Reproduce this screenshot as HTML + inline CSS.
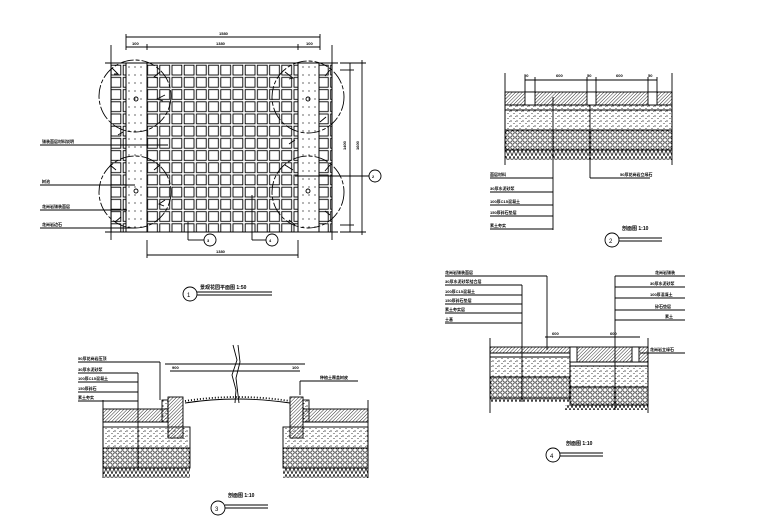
<!DOCTYPE html>
<html><head><meta charset="utf-8"><style>
html,body{margin:0;padding:0;background:#fff;}
svg{display:block;}
text{font-family:"Liberation Sans","Noto Sans CJK SC",sans-serif;font-size:4px;font-weight:bold;fill:#000;}
.t{font-size:6px;font-weight:normal;}
</style></head><body>
<svg width="760" height="530" viewBox="0 0 760 530" xmlns="http://www.w3.org/2000/svg">
<defs>
<pattern id="grid" width="12.2" height="12.2" patternUnits="userSpaceOnUse" x="0" y="3">
<rect x="1.2" y="1.2" width="9.8" height="9.8" fill="#fff" stroke="#000" stroke-width="0.9"/></pattern>
<pattern id="hatch" width="2.4" height="2.4" patternUnits="userSpaceOnUse" patternTransform="rotate(45)">
<line x1="0" y1="0" x2="0" y2="2.4" stroke="#000" stroke-width="0.8"/></pattern>
<pattern id="dots" width="6" height="5" patternUnits="userSpaceOnUse">
<circle cx="1" cy="1" r="0.6"/><circle cx="4" cy="3.5" r="0.5"/><circle cx="5.5" cy="1.5" r="0.4"/></pattern>
<pattern id="circ" width="5" height="5" patternUnits="userSpaceOnUse">
<circle cx="2.5" cy="2.5" r="1.7" fill="none" stroke="#000" stroke-width="0.7"/></pattern>
<pattern id="earth" width="4" height="6" patternUnits="userSpaceOnUse">
<path d="M0,6 L2,0 L4,6" fill="none" stroke="#000" stroke-width="0.7"/></pattern>
<pattern id="pdot" width="6" height="8" patternUnits="userSpaceOnUse">
<circle cx="3" cy="3" r="0.6"/></pattern>
</defs>
<g stroke="#000" stroke-width="0.9" fill="none">
<!-- PLAN -->
<rect x="111" y="63" width="221" height="169" fill="url(#grid)"/>
<rect x="126" y="63" width="21" height="169" fill="#fff"/>
<rect x="126" y="63" width="21" height="169" fill="url(#pdot)"/>
<rect x="298" y="63" width="21" height="169" fill="#fff"/>
<rect x="298" y="63" width="21" height="169" fill="url(#pdot)"/>
<line x1="105" y1="63" x2="338" y2="63"/><line x1="105" y1="232" x2="338" y2="232"/>
<line x1="111" y1="45" x2="111" y2="240"/><line x1="332" y1="45" x2="332" y2="240"/>
<g stroke-dasharray="14 2 4 2">
<circle cx="135" cy="96" r="36"/><circle cx="135" cy="192" r="36"/>
<circle cx="308" cy="97" r="36"/><circle cx="308" cy="192" r="36"/>
</g>
<path d="M112,68 l6,6 l-4,0 M160,72 l-6,5 l4,1 M165,95 l-8,4 l6,2 M118,135 l5,-3 M285,72 l8,6 l-4,1 M330,70 l-5,6 M320,122 l6,-5 M295,140 l-6,4 M110,165 l6,5 M160,165 l-6,5 M165,200 l-6,4 l5,2 M115,222 l6,-5 M285,165 l8,5 M330,165 l-5,6 M295,225 l-6,-5 M330,215 l-5,-4"/>
<circle cx="136" cy="99" r="2"/><circle cx="136" cy="191" r="2"/><circle cx="308" cy="99" r="2"/><circle cx="308" cy="191" r="2"/>
<line x1="126" y1="37" x2="320" y2="37"/><line x1="126" y1="34" x2="126" y2="50"/><line x1="320" y1="34" x2="320" y2="50"/>
<line x1="126" y1="47" x2="320" y2="47"/><line x1="147" y1="44" x2="147" y2="50"/><line x1="298" y1="44" x2="298" y2="50"/>
<line x1="147" y1="255" x2="298" y2="255"/><line x1="147" y1="240" x2="147" y2="258"/><line x1="298" y1="240" x2="298" y2="258"/>
<line x1="350" y1="63" x2="350" y2="232"/><line x1="362" y1="60" x2="362" y2="235"/>
<line x1="340" y1="63" x2="366" y2="63"/><line x1="340" y1="232" x2="366" y2="232"/>
<line x1="340" y1="70" x2="354" y2="70"/><line x1="340" y1="225" x2="354" y2="225"/>
<line x1="295" y1="176" x2="369" y2="176"/><circle cx="375" cy="176" r="6"/>
<line x1="188" y1="222" x2="188" y2="240"/><line x1="188" y1="240" x2="204" y2="240"/><circle cx="210" cy="240" r="6"/>
<line x1="252" y1="195" x2="252" y2="240"/><line x1="252" y1="240" x2="266" y2="240"/><circle cx="272" cy="240" r="6"/>
<line x1="40" y1="145" x2="168" y2="145"/><line x1="40" y1="185" x2="135" y2="185"/>
<line x1="40" y1="210" x2="127" y2="210"/><line x1="40" y1="228" x2="135" y2="228"/>
<circle cx="190" cy="294" r="7"/><line x1="197" y1="292" x2="272" y2="292"/><line x1="197" y1="295" x2="272" y2="295"/>
<!-- DETAIL 2 -->
<rect x="505" y="92" width="167" height="13" fill="url(#hatch)"/>
<rect x="505" y="105" width="167" height="5" fill="url(#dots)"/>
<rect x="505" y="110" width="167" height="20" fill="url(#dots)"/>
<rect x="505" y="130" width="167" height="20" fill="url(#circ)"/>
<rect x="505" y="150" width="167" height="10" fill="url(#earth)" stroke="none"/>
<line x1="505" y1="150" x2="672" y2="150"/>
<rect x="525" y="92" width="10" height="13" fill="#fff"/><rect x="587" y="92" width="9" height="13" fill="#fff"/><rect x="648" y="92" width="9" height="13" fill="#fff"/>
<line x1="505" y1="73" x2="505" y2="165"/><line x1="672" y1="73" x2="672" y2="165"/>
<line x1="525" y1="80" x2="657" y2="80"/><line x1="525" y1="77" x2="525" y2="92"/><line x1="535" y1="77" x2="535" y2="92"/><line x1="587" y1="77" x2="587" y2="92"/><line x1="596" y1="77" x2="596" y2="92"/><line x1="648" y1="77" x2="648" y2="92"/><line x1="657" y1="77" x2="657" y2="92"/>
<line x1="553" y1="97" x2="553" y2="230"/>
<line x1="490" y1="178" x2="553" y2="178"/><line x1="490" y1="192" x2="553" y2="192"/><line x1="490" y1="205" x2="553" y2="205"/><line x1="490" y1="216" x2="553" y2="216"/><line x1="490" y1="229" x2="553" y2="229"/>
<line x1="590" y1="105" x2="590" y2="178"/><line x1="590" y1="178" x2="650" y2="178"/>
<circle cx="612" cy="240" r="7"/><line x1="619" y1="238" x2="662" y2="238"/><line x1="619" y1="241" x2="662" y2="241"/>
<!-- DETAIL 3 left -->
<rect x="103" y="409" width="65" height="13" fill="url(#hatch)"/>
<rect x="103" y="427" width="87" height="21" fill="url(#dots)"/>
<rect x="103" y="448" width="87" height="20" fill="url(#circ)"/>
<rect x="103" y="468" width="87" height="10" fill="url(#earth)" stroke="none"/>
<line x1="103" y1="422" x2="168" y2="422"/>
<line x1="103" y1="468" x2="190" y2="468"/>
<rect x="168" y="397" width="15" height="41" fill="url(#hatch)"/>
<rect x="162" y="400" width="6" height="22" fill="url(#dots)"/>
<line x1="103" y1="400" x2="103" y2="478"/>
<!-- DETAIL 3 right -->
<rect x="303" y="409" width="65" height="13" fill="url(#hatch)"/>
<rect x="283" y="427" width="85" height="21" fill="url(#dots)"/>
<rect x="283" y="448" width="85" height="20" fill="url(#circ)"/>
<rect x="283" y="468" width="85" height="10" fill="url(#earth)" stroke="none"/>
<line x1="303" y1="422" x2="368" y2="422"/><line x1="283" y1="468" x2="368" y2="468"/>
<rect x="290" y="397" width="13" height="41" fill="url(#hatch)"/>
<rect x="303" y="400" width="6" height="22" fill="url(#dots)"/>
<line x1="368" y1="400" x2="368" y2="478"/>
<path d="M185,403 Q237,395 290,403"/>
<path d="M185,401 Q237,393 290,401" stroke-dasharray="1 2" stroke-width="1.8"/>
<path d="M233,345 L237,360 L232,375 L236,390 L235,403 M238,345 L240,362 L236,378 L239,403"/>
<line x1="165" y1="364" x2="305" y2="364"/><line x1="170" y1="371" x2="300" y2="371"/>
<line x1="78" y1="362" x2="160" y2="362"/><line x1="160" y1="362" x2="160" y2="400"/>
<line x1="78" y1="373" x2="138" y2="373"/><line x1="78" y1="382" x2="138" y2="382"/><line x1="78" y1="392" x2="138" y2="392"/><line x1="78" y1="401" x2="138" y2="401"/>
<line x1="138" y1="373" x2="138" y2="470"/>
<line x1="300" y1="381" x2="358" y2="381"/><line x1="300" y1="381" x2="300" y2="395"/>
<circle cx="218" cy="508" r="7"/><line x1="225" y1="505" x2="268" y2="505"/><line x1="225" y1="508" x2="268" y2="508"/>
<!-- DETAIL 4 -->
<rect x="490" y="347" width="80" height="6" fill="url(#hatch)"/>
<rect x="490" y="353" width="80" height="4"/>
<rect x="490" y="357" width="80" height="20" fill="url(#dots)"/>
<rect x="490" y="377" width="80" height="21" fill="url(#circ)"/>
<rect x="490" y="398" width="80" height="4" fill="url(#earth)" stroke="none"/>
<rect x="570" y="347" width="78" height="15" fill="url(#hatch)"/>
<rect x="570" y="362" width="78" height="4"/>
<rect x="570" y="366" width="78" height="21" fill="url(#dots)"/>
<rect x="570" y="387" width="78" height="18" fill="url(#circ)"/>
<rect x="565" y="405" width="83" height="5" fill="url(#earth)" stroke="none"/>
<rect x="570" y="347" width="7" height="15" fill="#fff"/><rect x="632" y="347" width="7" height="15" fill="#fff"/>
<line x1="490" y1="338" x2="490" y2="413"/><line x1="648" y1="338" x2="648" y2="413"/>
<line x1="545" y1="337" x2="640" y2="337"/>
<line x1="445" y1="276" x2="547" y2="276"/><line x1="547" y1="276" x2="547" y2="350"/>
<line x1="445" y1="285" x2="522" y2="285"/><line x1="445" y1="295" x2="522" y2="295"/><line x1="445" y1="304" x2="522" y2="304"/><line x1="445" y1="313" x2="522" y2="313"/><line x1="445" y1="323" x2="522" y2="323"/>
<line x1="522" y1="285" x2="522" y2="402"/>
<line x1="615" y1="276" x2="615" y2="410"/>
<line x1="615" y1="276" x2="685" y2="276"/><line x1="615" y1="287" x2="685" y2="287"/><line x1="615" y1="298" x2="685" y2="298"/><line x1="615" y1="310" x2="685" y2="310"/><line x1="615" y1="320" x2="685" y2="320"/>
<line x1="640" y1="353" x2="685" y2="353"/>
<circle cx="553" cy="455" r="7"/><line x1="560" y1="453" x2="603" y2="453"/><line x1="560" y1="456" x2="603" y2="456"/>
</g>
<g>
<text x="219" y="35">1580</text><text x="132" y="45">100</text><text x="216" y="45">1380</text><text x="306" y="45">100</text>
<text x="216" y="253">1380</text>
<text x="346" y="150" transform="rotate(-90 346 150)">1400</text><text x="359" y="150" transform="rotate(-90 359 150)">1600</text>
<text x="42" y="143">铺装面层材料说明</text><text x="42" y="183">树池</text><text x="42" y="208">花岗岩铺装面层</text><text x="42" y="226">花岗岩边石</text>
<text x="372" y="178">2</text><text x="207" y="242">3</text><text x="269" y="242">4</text>
<text x="200" y="289" style="font-size:5px">景观花园平面图 1:50</text>
<text x="187" y="297" class="t">1</text>
<text x="524" y="77">50</text><text x="556" y="77">600</text><text x="587" y="77">50</text><text x="616" y="77">600</text><text x="648" y="77">50</text>
<text x="490" y="176">面层材料</text><text x="490" y="190">30厚水泥砂浆</text><text x="490" y="203">100厚C15混凝土</text><text x="490" y="214">150厚碎石垫层</text><text x="490" y="227">素土夯实</text>
<text x="620" y="176">50厚花岗岩立缘石</text>
<text x="622" y="230" style="font-size:5px">剖面图 1:10</text><text x="609" y="243" class="t">2</text>
<text x="78" y="360">50厚花岗岩压顶</text><text x="78" y="371">30厚水泥砂浆</text><text x="78" y="380">100厚C15混凝土</text><text x="78" y="390">150厚碎石</text><text x="78" y="399">素土夯实</text>
<text x="320" y="379">种植土覆盖树皮</text><text x="172" y="369">900</text><text x="292" y="369">100</text>
<text x="228" y="497" style="font-size:5px">剖面图 1:10</text><text x="215" y="511" class="t">3</text>
<text x="445" y="274">花岗岩铺装面层</text><text x="445" y="283">30厚水泥砂浆结合层</text><text x="445" y="293">100厚C15混凝土</text><text x="445" y="302">150厚碎石垫层</text><text x="445" y="311">素土夯实层</text><text x="445" y="321">土基</text>
<text x="655" y="274">花岗岩铺装</text><text x="650" y="285">30厚水泥砂浆</text><text x="650" y="296">100厚混凝土</text><text x="655" y="308">碎石垫层</text><text x="665" y="318">素土</text>
<text x="650" y="351">花岗岩立缘石</text><text x="552" y="335">600</text><text x="610" y="335">600</text>
<text x="566" y="445" style="font-size:5px">剖面图 1:10</text><text x="550" y="458" class="t">4</text>
</g>
</svg>
</body></html>
